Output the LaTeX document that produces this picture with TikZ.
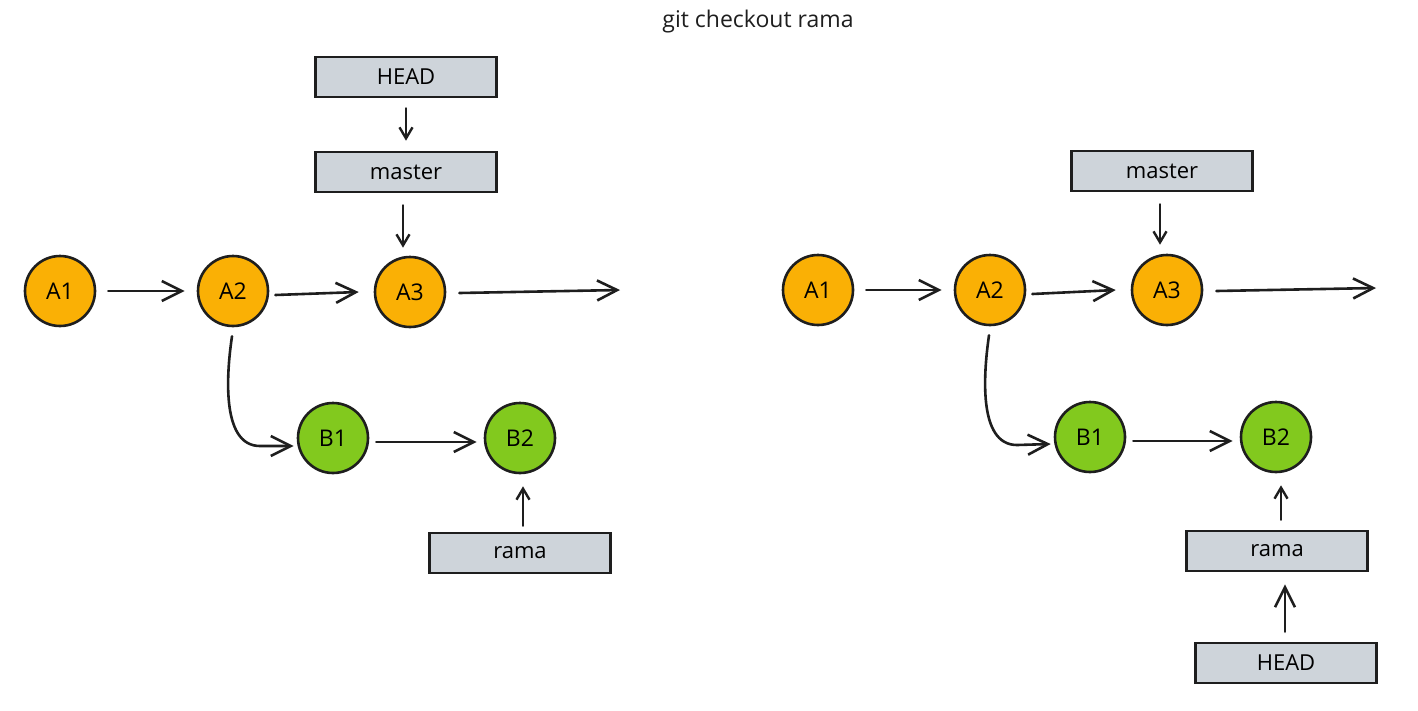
\documentclass[tikz,border=0pt]{standalone}
\usepackage{fontspec}
\setmainfont{Open Sans}
\usetikzlibrary{arrows.meta}
\definecolor{ink}{HTML}{1E1E1E}
\definecolor{orangefill}{HTML}{FAB005}
\definecolor{greenfill}{HTML}{82C91E}
\definecolor{boxfill}{HTML}{CED4DA}
\tikzset{
  commit/.style={circle, draw=ink, line width=2.6pt, minimum size=70pt, inner sep=0pt, font=\fontsize{23}{26}\selectfont},
  acommit/.style={commit, fill=orangefill},
  bcommit/.style={commit, fill=greenfill},
  refbox/.style={rectangle, draw=ink, line width=2.6pt, fill=boxfill, minimum width=181pt, minimum height=40pt, inner sep=0pt, font=\fontsize{22}{25}\selectfont},
  link/.style={draw=ink, line width=2.6pt, line cap=round, -{Straight Barb[length=20pt,width=20pt,line width=2.6pt]}},
  shortlink/.style={draw=ink, line width=2.4pt, line cap=round, -{Straight Barb[length=11pt,width=13pt,line width=2.4pt]}},
}
\begin{document}
\begin{tikzpicture}[x=1pt,y=-1pt]
\useasboundingbox (0,0) rectangle (1418,710);
\node[font=\fontsize{23}{26}\selectfont, ink] (title) at (758,22) {git checkout rama};

% ---------- left ----------
\node[refbox] (lhead) at (406,77) {HEAD};
\node[refbox] (lmaster) at (406,172) {master};
\node[acommit] (la1) at (60,291) {A1};
\node[acommit] (la2) at (233,291) {A2};
\node[acommit] (la3) at (410,292) {A3};
\node[bcommit] (lb1) at (333,438) {B1};
\node[bcommit] (lb2) at (520,438) {B2};
\node[refbox] (lrama) at (520,553) {rama};
\coordinate (lend) at (620,290);

\draw[shortlink] ([yshift=-10pt]lhead.south) -- ([yshift=10pt]lmaster.north);
\draw[shortlink] ([xshift=-3pt,yshift=-12pt]lmaster.south) -- ([xshift=-7pt,yshift=8pt]la3.north);
\draw[link] ([xshift=12pt]la1.east) -- ([xshift=-12pt]la2.west);
\draw[link] ([xshift=6pt,yshift=-4pt]la2.east) -- ([xshift=-15pt]la3.west);
\draw[link] ([xshift=13pt,yshift=-1pt]la3.east) -- (lend);
\draw[link] ([xshift=-1pt,yshift=-9pt]la2.south) .. controls (227,370) and (220,446) .. (260,446) -- ([xshift=-3pt,yshift=-8pt]lb1.west);
\draw[link] ([xshift=7pt,yshift=-4pt]lb1.east) -- ([xshift=-7pt,yshift=-4pt]lb2.west);
\draw[shortlink] ([xshift=3pt,yshift=6pt]lrama.north) -- ([xshift=3pt,yshift=-12pt]lb2.south);

% ---------- right ----------
\node[refbox] (rmaster) at (1162,171) {master};
\node[acommit] (ra1) at (818,290) {A1};
\node[acommit] (ra2) at (990,290) {A2};
\node[acommit] (ra3) at (1167,290) {A3};
\node[bcommit] (rb1) at (1090,437) {B1};
\node[bcommit] (rb2) at (1276,437) {B2};
\node[refbox] (rrama) at (1277,551) {rama};
\node[refbox] (rhead) at (1286,663) {HEAD};
\coordinate (rend) at (1376,288);

\draw[shortlink] ([xshift=-2pt,yshift=-12pt]rmaster.south) -- ([xshift=-7pt,yshift=9pt]ra3.north);
\draw[link] ([xshift=12pt]ra1.east) -- ([xshift=-12pt]ra2.west);
\draw[link] ([xshift=6pt,yshift=-4pt]ra2.east) -- ([xshift=-15pt]ra3.west);
\draw[link] ([xshift=13pt,yshift=-1pt]ra3.east) -- (rend);
\draw[link] ([xshift=-1pt,yshift=-9pt]ra2.south) .. controls (984,370) and (977,445) .. (1017,445) -- ([xshift=-3pt,yshift=-7pt]rb1.west);
\draw[link] ([xshift=7pt,yshift=-4pt]rb1.east) -- ([xshift=-7pt,yshift=-4pt]rb2.west);
\draw[shortlink] ([xshift=4pt,yshift=10pt]rrama.north) -- ([xshift=5pt,yshift=-12pt]rb2.south);
\draw[link] ([xshift=-1pt,yshift=10pt]rhead.north) -- ([xshift=8pt,yshift=-12pt]rrama.south);
\end{tikzpicture}
\end{document}
